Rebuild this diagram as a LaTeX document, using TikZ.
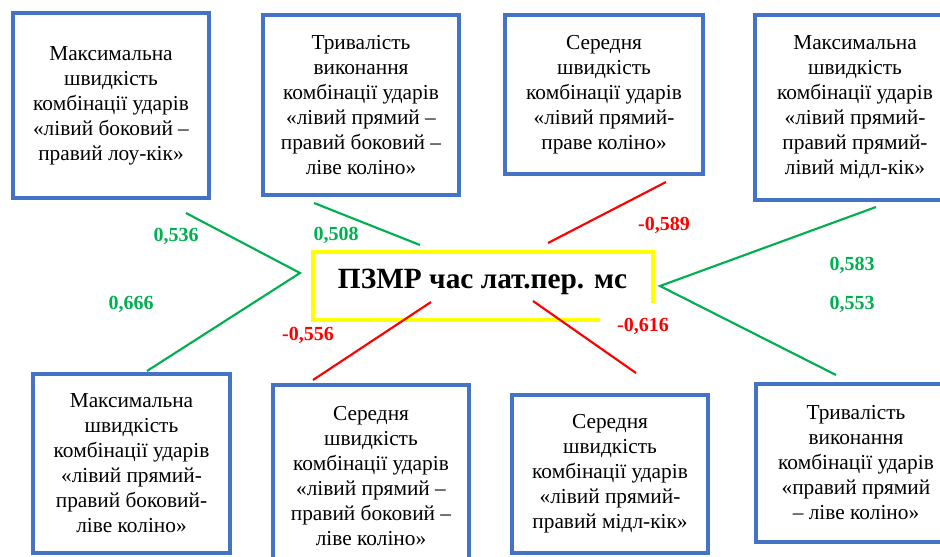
\documentclass[tikz,border=0pt]{standalone}
\usepackage{fontspec}
\setmainfont{LiberationSerif}[Extension=.ttf, UprightFont=*-Regular, BoldFont=*-Bold, ItalicFont=*-Italic, BoldItalicFont=*-BoldItalic]
\definecolor{boxblue}{HTML}{4472C4}
\definecolor{posgreen}{HTML}{00B050}
\definecolor{negred}{HTML}{FF0000}
\definecolor{ctryellow}{HTML}{FFFF00}
\begin{document}
\begin{tikzpicture}[x=0.75pt,y=-0.75pt,
  factor/.style={draw=boxblue, line width=2.6pt, align=center, inner sep=0pt,
    font=\fontsize{16}{18.75}\selectfont},
  posline/.style={draw=posgreen, line width=1.6pt},
  negline/.style={draw=negred, line width=1.6pt},
  poslabel/.style={text=posgreen, font=\fontsize{15}{18}\bfseries\selectfont},
  neglabel/.style={text=negred, font=\fontsize{15}{18}\bfseries\selectfont},
  frame/.style={draw=ctryellow, line width=3pt}]
\useasboundingbox (0,0) rectangle (940,557);
\clip (0,0) rectangle (940,557);
% boxes
\node[factor, minimum width=147pt, minimum height=138.75pt] (b1) at (111,105.5)
  {Максимальна\\швидкість\\комбінації ударів\\«лівий боковий –\\правий лоу-кік»};
\node[factor, minimum width=147pt, minimum height=135pt] (b2) at (361,105)
  {Тривалість\\виконання\\комбінації ударів\\«лівий прямий –\\правий боковий –\\ліве коліно»};
\node[factor, minimum width=148.5pt, minimum height=119.25pt] (b3) at (604,94.5)
  {Середня\\швидкість\\комбінації ударів\\«лівий прямий-\\праве коліно»};
\node[factor, minimum width=150pt, minimum height=138.75pt] (b4) at (855,107.5)
  {Максимальна\\швидкість\\комбінації ударів\\«лівий прямий-\\правий прямий-\\лівий мідл-кік»};
\node[factor, minimum width=147.75pt, minimum height=134.25pt] (b5) at (131.5,463.5)
  {Максимальна\\швидкість\\комбінації ударів\\«лівий прямий-\\правий боковий-\\ліве коліно»};
\node[factor, minimum width=147pt, minimum height=136.5pt] (b6) at (371,476)
  {Середня\\швидкість\\комбінації ударів\\«лівий прямий –\\правий боковий –\\ліве коліно»};
\node[factor, minimum width=147pt, minimum height=118.5pt] (b7) at (610,474)
  {Середня\\швидкість\\комбінації ударів\\«лівий прямий-\\правий мідл-кік»};
\node[factor, minimum width=150pt, minimum height=118.5pt] (b8) at (856,463)
  {Тривалість\\виконання\\комбінації ударів\\«правий прямий\\– ліве коліно»};
% central
\coordinate (y1) at (600,320);
\coordinate (y2) at (313,320);
\coordinate (y3) at (313,252);
\coordinate (y4) at (653,252);
\coordinate (y5) at (653,303);
\draw[frame] (y1) -- (y2) -- (y3) -- (y4) -- (y5);
\node[anchor=base, inner sep=0pt, font=\fontsize{22}{26}\bfseries\selectfont] (ctr) at (482.5,288) {ПЗМР час лат.пер. мс};
% connectors
\coordinate (la) at (300,273);
\coordinate (ra) at (660,286);
\coordinate (e1) at (186,213);
\coordinate (e5) at (147,371);
\coordinate (e2a) at (314,203);
\coordinate (e2b) at (420,245);
\coordinate (e3a) at (548,243);
\coordinate (e3b) at (666,182);
\coordinate (e4) at (876,207);
\coordinate (e8) at (836,375);
\coordinate (e6a) at (431,302);
\coordinate (e6b) at (313,380);
\coordinate (e7a) at (533,301);
\coordinate (e7b) at (636,373);
\draw[posline] (e1) -- (la) -- (e5);
\draw[posline] (e2a) -- (e2b);
\draw[negline] (e3a) -- (e3b);
\draw[posline] (e4) -- (ra) -- (e8);
\draw[negline] (e6a) -- (e6b);
\draw[negline] (e7a) -- (e7b);
% labels
\node[poslabel] (l1) at (176,236) {0,536};
\node[poslabel] (l2) at (336,235) {0,508};
\node[poslabel] (l5) at (131,304) {0,666};
\node[neglabel] (l6) at (308,335) {-0,556};
\node[neglabel] (l3) at (664,225) {-0,589};
\node[neglabel] (l7) at (643,326) {-0,616};
\node[poslabel] (l4) at (852,265) {0,583};
\node[poslabel] (l8) at (852,304) {0,553};
\end{tikzpicture}
\end{document}
